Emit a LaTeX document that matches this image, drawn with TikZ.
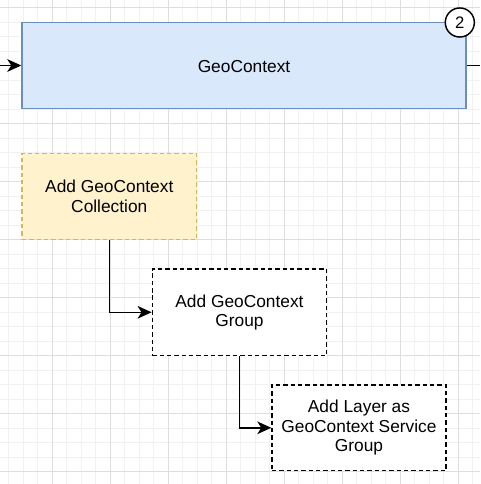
\documentclass[tikz,border=0pt]{standalone}
\usepackage{fontspec}
\setmainfont{Liberation Sans}
\usetikzlibrary{arrows.meta}
\definecolor{blueFill}{HTML}{DAE8FC}
\definecolor{blueLine}{HTML}{6C8EBF}
\definecolor{yelFill}{HTML}{FFF2CC}
\definecolor{yelLine}{HTML}{D6B656}
\definecolor{gridMinor}{HTML}{F1F1F1}
\definecolor{gridMajor}{HTML}{DEDEDE}
\tikzset{
  box/.style={rectangle, line width=1.1pt, align=center,
    font=\fontsize{13}{14.5}\selectfont, inner sep=0pt},
  dashbox/.style={box, dash pattern=on 3.3pt off 2.2pt},
  conn/.style={line width=1.1pt, -{Stealth[length=10.5pt,width=9.5pt,inset=3pt]}},
  plain/.style={line width=1.1pt},
  minor/.style={gridMinor, line width=0.75pt},
  major/.style={gridMajor, line width=0.75pt},
}
\begin{document}
\begin{tikzpicture}[x=0.75pt,y=-0.75pt]
\useasboundingbox (0,0) rectangle (480,484);
\fill[white] (0,0) rectangle (480,484);
% grid
\foreach \i in {0,...,34} {
  \draw[minor] ({-5.7+14.5*\i},0) -- ({-5.7+14.5*\i},484);
  \draw[minor] (0,{-6.8+14.5*\i}) -- (480,{-6.8+14.5*\i});
}
\foreach \i in {0,...,8} {
  \draw[major] ({-5.7+58*\i},0) -- ({-5.7+58*\i},484);
  \draw[major] (0,{7.7+58*\i}) -- (480,{7.7+58*\i});
}
% nodes
\node[box, draw=blueLine, fill=blueFill, minimum width=333pt, minimum height=64.5pt, text height=12.5pt, text depth=2.7pt] (geo) at (244,65.5) {GeoContext};
\node[circle, draw=black, fill=white, line width=1.1pt, minimum size=21.8pt, inner sep=0pt, font=\fontsize{12.5}{14}\selectfont] (num) at (459.8,22.5) {2};
\node[dashbox, draw=yelLine, fill=yelFill, minimum width=131pt, minimum height=64.5pt] (coll) at (109.3,196.3) {Add GeoContext\\Collection};
\node[dashbox, draw=black, fill=white, minimum width=130.8pt, minimum height=65pt] (grp) at (239.5,312.3) {Add GeoContext\\Group};
\node[dashbox, draw=black, fill=white, minimum width=130.5pt, minimum height=64.3pt] (lay) at (359,427.8) {Add Layer as\\GeoContext Service\\Group};
% connectors
\coordinate (inL) at (0,65.5);
\coordinate (outR) at (480,65.5);
\draw[conn] (inL) -- (geo.west);
\draw[plain] (geo.east) -- (outR);
\draw[conn] (coll.south) |- (grp.west);
\draw[conn] (grp.south) |- (lay.west);
\end{tikzpicture}
\end{document}
